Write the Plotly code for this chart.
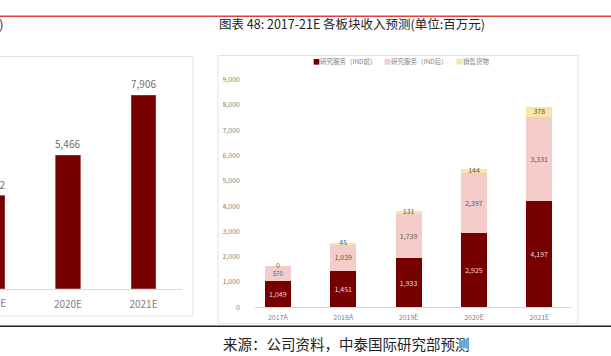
import plotly.graph_objects as go

W, H = 611, 356

def fx(px):
    return px / W

def fy(py):
    return 1 - py / H

# ---- data ----
years = ["2017A", "2018A", "2019E", "2020E", "2021E"]
ind_before = [1049, 1451, 1933, 2925, 4197]
ind_after = [570, 1039, 1739, 2397, 3331]
goods = [0, 45, 131, 144, 378]
total_rev = [1619, 2535, 3802, 5466, 7906]
series_names = ["研究服务（IND前）", "研究服务（IND后）", "销售货物"]
y_ticks = [0, 1000, 2000, 3000, 4000, 5000, 6000, 7000, 8000, 9000]

DARK = "#760000"
PINK = "#F4CCCA"
YEL = "#F8E6A2"
GRAY = "#7F7F7F"
FONT = "Noto Sans CJK SC, Open Sans, sans-serif"
colors = [DARK, PINK, YEL]

# left chart x axis (only part of it is inside the page)
LEFT_RANGE = [2.1, 4.51]
LEFT_DOMAIN = [0, fx(182)]

def left_paper_x(cat):
    i = years.index(cat)
    frac = (i - LEFT_RANGE[0]) / (LEFT_RANGE[1] - LEFT_RANGE[0])
    return LEFT_DOMAIN[0] + frac * (LEFT_DOMAIN[1] - LEFT_DOMAIN[0])

fig = go.Figure()

# left (partially visible) chart: total revenue
fig.add_trace(go.Bar(
    x=years, y=total_rev, xaxis="x", yaxis="y", width=0.32,
    marker=dict(color=DARK, line=dict(color="#9A3A3A", width=0.8)),
    showlegend=False,
))

# right chart: stacked segments
for i, (vals, tcol) in enumerate([(ind_before, "#F3DADA"), (ind_after, "#595959")]):
    fig.add_trace(go.Bar(
        x=years, y=vals, name=series_names[i], xaxis="x2", yaxis="y2", width=0.4,
        marker=dict(color=colors[i], line=dict(width=0)),
        text=[f"{v:,}" for v in vals], textposition="inside",
        insidetextanchor="middle", textangle=0,
        textfont=dict(size=7, color=tcol, family=FONT),
        showlegend=False,
    ))
fig.add_trace(go.Bar(
    x=years, y=goods, name=series_names[2], xaxis="x2", yaxis="y2", width=0.4,
    marker=dict(color=YEL, line=dict(width=0)), showlegend=False,
))
# labels of the thin top segment, centred on the segment
goods_mid = [a + b + g / 2 for a, b, g in zip(ind_before, ind_after, goods)]
fig.add_trace(go.Scatter(
    x=years, y=goods_mid, xaxis="x2", yaxis="y2", mode="text",
    text=[f"{v:,}" for v in goods], textposition="middle center",
    textfont=dict(size=7, color="#595959", family=FONT), showlegend=False,
    cliponaxis=False,
))

# legend (compact, like the source)
legend_x = [311, 382, 454]
annotations = []
for name, col, lx in zip(series_names, colors, legend_x):
    annotations.append(dict(
        text=f'<span style="color:{col};font-size:7px">■</span>{name}',
        xref="paper", yref="paper", x=fx(lx), y=fy(57), xanchor="left",
        yanchor="middle", showarrow=False,
        font=dict(size=6.5, color=GRAY, family=FONT)))

# value labels of the left chart (placed via its own axis scale),
# only for the bars that reach into the page
for cat, v in zip(years, total_rev):
    if left_paper_x(cat) < -0.05:
        continue
    annotations.append(dict(
        text=f"{v:,}", xref="paper", yref="y", x=left_paper_x(cat), y=v,
        xanchor="center", yanchor="bottom", yshift=2, showarrow=False,
        font=dict(size=10, color="#6E6E6E", family=FONT)))

cut = years[2]
annotations += [
    dict(text="图表 48: 2017-21E 各板块收入预测(单位:百万元)", xref="paper",
         yref="paper", x=fx(217), y=fy(18), xanchor="left", yanchor="middle",
         showarrow=False, font=dict(size=12.5, color="#222222", family=FONT)),
    dict(text="图表 47: 2017-21E 收入预测(单位:百万元)", xref="paper",
         yref="paper", x=fx(6), y=fy(18), xanchor="right", yanchor="middle",
         showarrow=False, font=dict(size=12.5, color="#222222", family=FONT)),
    dict(text="来源：公司资料，中泰国际研究部预测", xref="paper",
         yref="paper", x=fx(221), y=fy(347), xanchor="left", yanchor="middle",
         showarrow=False, font=dict(size=14.5, color="#222222", family=FONT)),
    # category label of the bar that is cut by the page edge
    dict(text=cut, xref="paper", yref="paper", x=left_paper_x(cut), y=fy(305),
         xanchor="center", yanchor="middle", showarrow=False,
         font=dict(size=10, color=GRAY, family=FONT)),
]

fig.update_layout(
    width=W, height=H, barmode="stack",
    margin=dict(l=0, r=0, t=0, b=0),
    paper_bgcolor="white", plot_bgcolor="white",
    font=dict(family=FONT, color=GRAY),
    showlegend=False,
    xaxis=dict(domain=LEFT_DOMAIN, range=LEFT_RANGE, type="category",
               categoryorder="array", categoryarray=years,
               showline=True, linecolor="#D9D9D9", linewidth=1,
               ticks="", showgrid=False, ticklabelstandoff=6,
               tickfont=dict(size=10, color=GRAY, family=FONT), anchor="y"),
    yaxis=dict(domain=[fy(291), fy(64.5)], range=[0, 9000], visible=False,
               anchor="x"),
    xaxis2=dict(domain=[fx(255), fx(572)], range=[-0.35, 4.5], type="category",
                categoryorder="array", categoryarray=years,
                showline=True, linecolor="#D9D9D9", linewidth=1,
                ticks="", showgrid=False, ticklabelstandoff=3,
                tickfont=dict(size=7, color=GRAY, family=FONT), anchor="y2"),
    yaxis2=dict(domain=[fy(310), fy(75.7)], range=[0, 9000],
                tickvals=y_ticks, tickformat=",", showgrid=False,
                showline=False, zeroline=False, ticks="",
                anchor="free", position=fx(240),
                tickfont=dict(size=7, color=GRAY, family=FONT)),
    shapes=[
        dict(type="line", xref="paper", yref="paper", x0=0, x1=1,
             y0=fy(10.5), y1=fy(10.5), line=dict(color="#E2413F", width=1.5)),
        dict(type="line", xref="paper", yref="paper", x0=0, x1=1,
             y0=fy(329.5), y1=fy(329.5), line=dict(color="#222222", width=1.5)),
        dict(type="rect", xref="paper", yref="paper", x0=fx(-5), x1=fx(193),
             y0=fy(319), y1=fy(52), line=dict(color="#E3E3E3", width=1)),
        dict(type="rect", xref="paper", yref="paper", x0=fx(218), x1=fx(578),
             y0=fy(327), y1=fy(51), line=dict(color="#E3E3E3", width=1)),
    ],
    annotations=annotations,
)

fig.write_html("out.html", config={"displayModeBar": False},
               post_script="document.body.style.margin='0';")
